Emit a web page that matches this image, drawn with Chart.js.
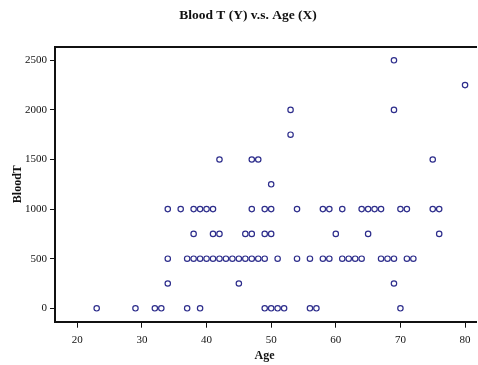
<!DOCTYPE html>
<html>
<head>
<meta charset="utf-8">
<script src="https://cdn.jsdelivr.net/npm/chart.js@4/dist/chart.umd.min.js"></script>
<style>
  html, body { margin: 0; padding: 0; background: #fff; }
  #wrap { width: 478px; height: 365px; }
</style>
</head>
<body>
<div id="wrap"><canvas id="scatterChart"></canvas></div>
<script>
// data
const ages = [
  23, 29, 32, 33, 37, 39, 49, 50, 51, 52, 56, 57, 70,
  34, 45, 69,
  34, 37, 38, 39, 40, 41, 42, 43, 44, 45, 46, 47, 48, 49, 51, 54, 56, 58, 59, 61, 62, 63, 64, 67, 68, 69, 71, 72,
  38, 41, 42, 46, 47, 49, 50, 60, 65, 76,
  34, 36, 38, 39, 40, 41, 47, 49, 50, 54, 58, 59, 61, 64, 65, 66, 67, 70, 71, 75, 76,
  50,
  42, 47, 48, 75,
  53,
  53, 69,
  80,
  69
];
const bloodT = [
  0, 0, 0, 0, 0, 0, 0, 0, 0, 0, 0, 0, 0,
  250, 250, 250,
  500, 500, 500, 500, 500, 500, 500, 500, 500, 500, 500, 500, 500, 500, 500, 500, 500, 500, 500, 500, 500, 500, 500, 500, 500, 500, 500, 500,
  750, 750, 750, 750, 750, 750, 750, 750, 750, 750,
  1000, 1000, 1000, 1000, 1000, 1000, 1000, 1000, 1000, 1000, 1000, 1000, 1000, 1000, 1000, 1000, 1000, 1000, 1000, 1000, 1000,
  1250,
  1500, 1500, 1500, 1500,
  1750,
  2000, 2000,
  2250,
  2500
];
const xTicks = [20, 30, 40, 50, 60, 70, 80];
const yTicks = [0, 500, 1000, 1500, 2000, 2500];

const points = ages.map((a, i) => ({ x: a, y: bloodT[i] }));
const serif = '"Liberation Serif", "DejaVu Serif", serif';

// frame: top line, and the x axis runs out to the right edge
const framePlugin = {
  id: 'frameLines',
  afterDraw(chart) {
    const a = chart.chartArea;
    const ctx = chart.ctx;
    const edge = chart.width - 1;
    const topY = Math.round(a.top - 1) + 1;
    const botY = Math.round(a.bottom - 1) + 1;
    ctx.save();
    ctx.strokeStyle = '#111';
    ctx.lineWidth = 2;
    ctx.beginPath();
    ctx.moveTo(a.left - 1, topY);
    ctx.lineTo(edge, topY);
    ctx.moveTo(a.right - 1, botY);
    ctx.lineTo(edge, botY);
    ctx.stroke();
    ctx.restore();
  }
};

new Chart(document.getElementById('scatterChart'), {
  type: 'scatter',
  data: {
    datasets: [{
      data: points,
      pointStyle: 'circle',
      pointRadius: 2.7,
      pointHoverRadius: 2.7,
      borderWidth: 1.2,
      borderColor: '#2e2e8c',
      backgroundColor: 'rgba(0,0,0,0)'
    }]
  },
  options: {
    responsive: true,
    maintainAspectRatio: false,
    animation: false,
    layout: { padding: { left: 18, right: 0, top: 0, bottom: 0 } },
    plugins: {
      legend: { display: false },
      tooltip: { enabled: false },
      title: {
        display: true,
        text: 'Blood T (Y) v.s. Age (X)',
        color: '#111',
        font: { family: serif, size: 13.5, weight: 'bold' },
        padding: { top: 7, bottom: 23.5 }
      }
    },
    scales: {
      x: {
        type: 'linear',
        min: 16.55,
        max: 81.4,
        afterBuildTicks: s => { s.ticks = xTicks.map(v => ({ value: v })); },
        afterFit: s => { s.height = 43.3; s.paddingLeft = 0; s.paddingRight = 0; },
        border: { display: true, color: '#111', width: 2 },
        grid: { drawOnChartArea: false, drawTicks: true, tickLength: 6, tickColor: '#111', tickWidth: 1 },
        ticks: { color: '#111', padding: 6, font: { family: serif, size: 11 }, callback: v => String(v) },
        title: {
          display: true,
          text: 'Age',
          color: '#111',
          font: { family: serif, size: 12, weight: 'bold' },
          padding: { top: 0, bottom: 1.5 }
        }
      },
      y: {
        type: 'linear',
        min: -135,
        max: 2637,
        afterBuildTicks: s => { s.ticks = yTicks.map(v => ({ value: v })); },
        afterFit: s => { s.width = 37; s.paddingTop = 0; s.paddingBottom = 0; },
        border: { display: true, color: '#111', width: 2 },
        grid: { drawOnChartArea: false, drawTicks: true, tickLength: 5, tickColor: '#111', tickWidth: 1 },
        ticks: { color: '#111', padding: 3, font: { family: serif, size: 11 }, callback: v => String(v) },
        title: {
          display: true,
          text: 'BloodT',
          color: '#111',
          font: { family: serif, size: 12, weight: 'bold' },
          padding: { top: -7, bottom: 0 }
        }
      }
    }
  },
  plugins: [framePlugin]
});
</script>
</body>
</html>
